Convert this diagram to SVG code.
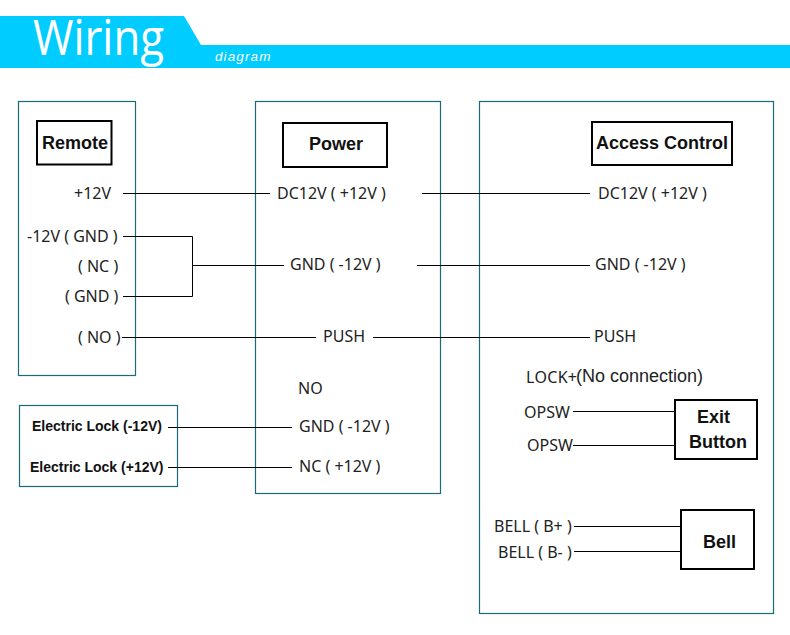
<svg xmlns="http://www.w3.org/2000/svg" width="790" height="635" viewBox="0 0 790 635">
<style>
.t{font-family:"Noto Sans","Open Sans","DejaVu Sans",sans-serif;font-size:16px;fill:#222}
.b{font-family:"Liberation Sans",Arial,sans-serif;font-weight:700;font-size:18px;fill:#111}
.s{font-family:"Liberation Sans",Arial,sans-serif;font-weight:700;font-size:14px;fill:#111}
.p{fill:#fff;stroke:#1b6a7b;stroke-width:1.2}
.k{fill:#fff;stroke:#000;stroke-width:2}
.c line,.c path{fill:none;stroke:#000;stroke-width:1}
</style>
<rect width="790" height="635" fill="#fff"/>
<g id="banner">
<path d="M0 16H184L201 45H790V68H0Z" fill="#00ccff"/>
<text x="33" y="55" font-family="'Open Sans','Liberation Sans',sans-serif" font-size="49" font-weight="400" fill="#fff" textLength="131" lengthAdjust="spacingAndGlyphs">Wiring</text>
<text x="215" y="61" font-family="'Liberation Sans',sans-serif" font-size="13.500" font-style="italic" fill="#fff" letter-spacing="1.100">diagram</text>
</g>
<g id="remote">
<rect class="p" x="18.500" y="101.500" width="117" height="274"/>
<rect class="k" x="37" y="121" width="74.500" height="43.500"/>
<text class="b" x="42" y="148.500">Remote</text>
<text class="t" x="74" y="198.500">+12V</text>
<text class="t" x="27" y="241.500">-12V ( GND )</text>
<text class="t" x="78" y="271.500">( NC )</text>
<text class="t" x="65" y="301.500">( GND )</text>
<text class="t" x="78" y="342.500">( NO )</text>
</g>
<g id="power">
<rect class="p" x="255.500" y="101.500" width="185" height="392"/>
<rect class="k" x="283" y="123" width="104" height="44"/>
<text class="b" x="309" y="149.500">Power</text>
<text class="t" x="277" y="198.500">DC12V ( +12V )</text>
<text class="t" x="290" y="269.500">GND ( -12V )</text>
<text class="t" x="323" y="341.500">PUSH</text>
<text class="t" x="298" y="393.500">NO</text>
<text class="t" x="299" y="432">GND ( -12V )</text>
<text class="t" x="299" y="472">NC ( +12V )</text>
</g>
<g id="access-control">
<rect class="p" x="479.500" y="101.500" width="294" height="512"/>
<rect class="k" x="592" y="122" width="140" height="43"/>
<text class="b" x="596" y="148.500">Access Control</text>
<text class="t" x="598" y="198.500">DC12V ( +12V )</text>
<text class="t" x="595" y="270">GND ( -12V )</text>
<text class="t" x="594" y="342">PUSH</text>
<text class="t" x="526" y="382.500" textLength="51">LOCK+</text>
<text x="576" y="381.500" font-family="'Liberation Sans',sans-serif" font-size="18" fill="#222">(No connection)</text>
<text class="t" x="524" y="417.500">OPSW</text>
<text class="t" x="527" y="450.500">OPSW</text>
<text class="t" x="494" y="532">BELL ( B+ )</text>
<text class="t" x="498" y="558">BELL ( B- )</text>
</g>
<g id="electric-lock">
<rect class="p" x="19.500" y="405.500" width="158" height="81"/>
<text class="s" x="32" y="431">Electric Lock (-12V)</text>
<text class="s" x="30" y="472">Electric Lock (+12V)</text>
</g>
<g id="exit-button">
<rect class="k" x="675" y="400" width="82" height="59"/>
<text class="b" x="697" y="423">Exit</text>
<text class="b" x="689" y="448">Button</text>
</g>
<g id="bell">
<rect class="k" x="681" y="510" width="73" height="59"/>
<text class="b" x="703" y="548">Bell</text>
</g>
<g id="connectors" class="c">
<line x1="123" y1="193.500" x2="270" y2="193.500"/>
<path d="M123 236.500H192.500V296.500H123"/>
<line x1="192" y1="265.500" x2="284" y2="265.500"/>
<line x1="122" y1="337.500" x2="316" y2="337.500"/>
<line x1="422" y1="193.500" x2="590" y2="193.500"/>
<line x1="417" y1="265.500" x2="590" y2="265.500"/>
<line x1="373" y1="337.500" x2="590" y2="337.500"/>
<line x1="168" y1="427.500" x2="292" y2="427.500"/>
<line x1="168" y1="467.500" x2="292" y2="467.500"/>
<line x1="573" y1="411.500" x2="675" y2="411.500"/>
<line x1="573" y1="445.500" x2="675" y2="445.500"/>
<line x1="574" y1="526.500" x2="681" y2="526.500"/>
<line x1="574" y1="551.500" x2="681" y2="551.500"/>
</g>
</svg>
